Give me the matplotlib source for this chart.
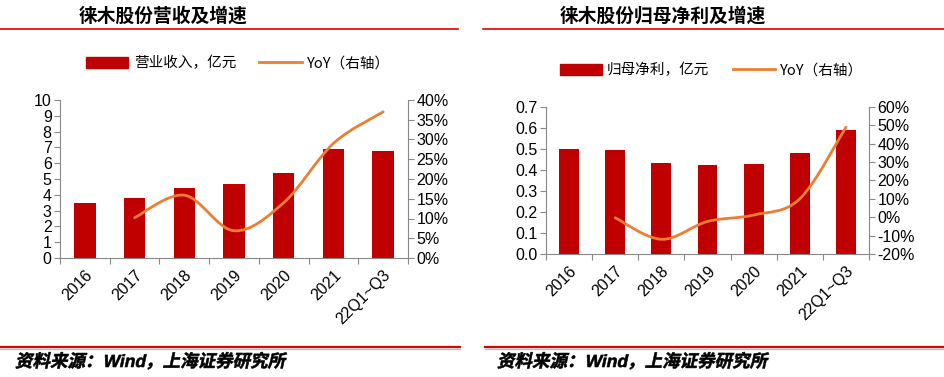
"""Revenue / net profit bar+line charts for 徕木股份."""

import matplotlib as mpl
from matplotlib import pyplot as plt
from matplotlib.font_manager import FontProperties
from matplotlib.lines import Line2D
from matplotlib.patches import Patch, PathPatch
from matplotlib.path import Path
from matplotlib.textpath import TextPath
from matplotlib.transforms import Affine2D, IdentityTransform
import numpy as np

mpl.use("Agg")

plt.rcParams["font.family"] = ["Liberation Sans", "Noto Sans CJK SC", "DejaVu Sans"]

# data
categories = ["2016", "2017", "2018", "2019", "2020", "2021", "22Q1~Q3"]
revenue = [3.45, 3.80, 4.40, 4.70, 5.35, 6.90, 6.78]
revenue_yoy = [None, 10.2, 15.9, 6.9, 14.0, 29.0, 37.0]
profit = [0.50, 0.497, 0.435, 0.425, 0.43, 0.48, 0.59]
profit_yoy = [None, -0.3, -12.0, -2.3, 1.2, 10.0, 49.0]

BAR = "#C00000"
LINE = "#ED7D31"
GRID = "#888888"
CJK = ["Noto Sans CJK SC", "DejaVu Sans"]


def smooth_path(xs, ys):
    """Catmull-Rom style smooth curve as cubic Bezier segments (like Excel smoothing)."""
    pts = np.column_stack([xs, ys])
    verts = [pts[0]]
    codes = [Path.MOVETO]
    n = len(pts)
    for i in range(n - 1):
        p0 = pts[max(i - 1, 0)]
        p1 = pts[i]
        p2 = pts[i + 1]
        p3 = pts[min(i + 2, n - 1)]
        c1 = p1 + (p2 - p0) / 6.0
        c2 = p2 - (p3 - p1) / 6.0
        verts += [c1, c2, p2]
        codes += [Path.CURVE4] * 3
    return Path(verts, codes)


def draw_panel(fig, rect, bars, yoy, ylim, yticks, yfmt, y2lim, y2ticks, bar_label):
    ax = fig.add_axes(rect)
    x = np.arange(len(categories))
    ax.bar(x, bars, width=0.43, color=BAR, zorder=2)
    ax.set_xlim(-0.5, len(categories) - 0.5)
    ax.set_ylim(*ylim)
    ax.set_yticks(yticks)
    ax.set_yticklabels([yfmt.format(v) for v in yticks], fontsize=11.5)

    # ticks between categories, labels at centres
    ax.set_xticks(np.arange(-0.5, len(categories)), minor=False)
    ax.set_xticklabels([])
    ax.set_xticks(x, minor=True)
    ax.set_xticklabels(categories, minor=True, rotation=45, ha="right",
                       rotation_mode="anchor", fontsize=11.5)
    ax.tick_params(axis="x", which="minor", length=0, pad=7)
    ax.tick_params(axis="x", which="major", length=4, color=GRID, direction="out")
    ax.tick_params(axis="y", length=4, color=GRID, direction="out", pad=2)

    for side in ("top", "right"):
        ax.spines[side].set_visible(False)
    for side in ("left", "bottom"):
        ax.spines[side].set_color(GRID)

    ax2 = ax.twinx()
    ax2.set_ylim(*y2lim)
    ax2.set_yticks(y2ticks)
    ax2.set_yticklabels([f"{v:.0f}%" for v in y2ticks], fontsize=11.5)
    ax2.tick_params(axis="y", length=4, color=GRID, direction="out", pad=2)
    for side in ("top", "left", "bottom"):
        ax2.spines[side].set_visible(False)
    ax2.spines["right"].set_color(GRID)

    xs = [i for i, v in enumerate(yoy) if v is not None]
    ys = [v for v in yoy if v is not None]
    ax2.add_patch(PathPatch(smooth_path(xs, ys), fill=False, edgecolor=LINE,
                            lw=2, capstyle="round", zorder=3))

    handles = [Patch(color=BAR), Line2D([], [], color=LINE, lw=2)]
    labels = [bar_label, "YoY（右轴）"]
    cx = rect[0] + rect[2] / 2
    return ax, handles, labels, cx


fig = plt.figure(figsize=(9.45, 3.77), dpi=100)
W, H = 945, 377


def fr(x0, y_top, x1, y_bot):
    return [x0 / W, 1 - y_bot / H, (x1 - x0) / W, (y_bot - y_top) / H]


_, h1, l1, c1 = draw_panel(fig, fr(60, 100, 408, 258), revenue, revenue_yoy,
                           (0, 10), list(range(0, 11)), "{:d}",
                           (0, 40), list(range(0, 41, 5)), "营业收入，亿元")
_, h2, l2, c2 = draw_panel(fig, fr(546, 107, 869, 254), profit, profit_yoy,
                           (0, 0.7), [round(v * 0.1, 1) for v in range(8)], "{:.1f}",
                           (-20, 60), list(range(-20, 61, 10)), "归母净利，亿元")

for handles, labels, cx, ly in ((h1, l1, c1 + 4 / W, 63), (h2, l2, c2 + 4 / W, 70)):
    fig.legend(handles, labels, loc="center", bbox_to_anchor=(cx, 1 - ly / H),
               ncol=2, frameon=False, handlelength=2.9, handleheight=0.8,
               columnspacing=1.6, handletextpad=0.35,
               prop={"family": CJK, "size": 10.5})

# titles with red rule underneath
fig.text(163 / W, 1 - 16 / H, "徕木股份营收及增速", ha="center", va="center",
         fontsize=13.5, fontweight="bold", family=CJK)
fig.text(663 / W, 1 - 16 / H, "徕木股份归母净利及增速", ha="center", va="center",
         fontsize=13.5, fontweight="bold", family=CJK)
fig.add_artist(Line2D([0, 458 / W], [1 - 29 / H] * 2, color="#E00000", lw=1.2))
fig.add_artist(Line2D([483 / W, 1], [1 - 29 / H] * 2, color="#E00000", lw=1.2))

# source footers: slanted text drawn as a skewed text path (pixel coords)
source = "资料来源：Wind，上海证券研究所"
prop = FontProperties(family=["Liberation Sans", "Noto Sans CJK SC"], weight="bold")
for x0, x1, tx in ((0, 460, 15), (485, 945, 497)):
    fig.add_artist(Line2D([x0 / W, x1 / W], [1 - 347 / H] * 2, color="#E00000", lw=1.6))
    fig.add_artist(Line2D([x0 / W, x1 / W], [1 - 349 / H] * 2, color="#F4A0A0", lw=0.8))
    tp = TextPath((0, 0), source, size=17.5, prop=prop)
    tr = Affine2D().skew_deg(12, 0).translate(tx, H - 367)
    fig.add_artist(PathPatch(tr.transform_path(tp), transform=IdentityTransform(),
                             facecolor="black", edgecolor="black", lw=0.4))

fig.savefig("out.png", dpi=100)
